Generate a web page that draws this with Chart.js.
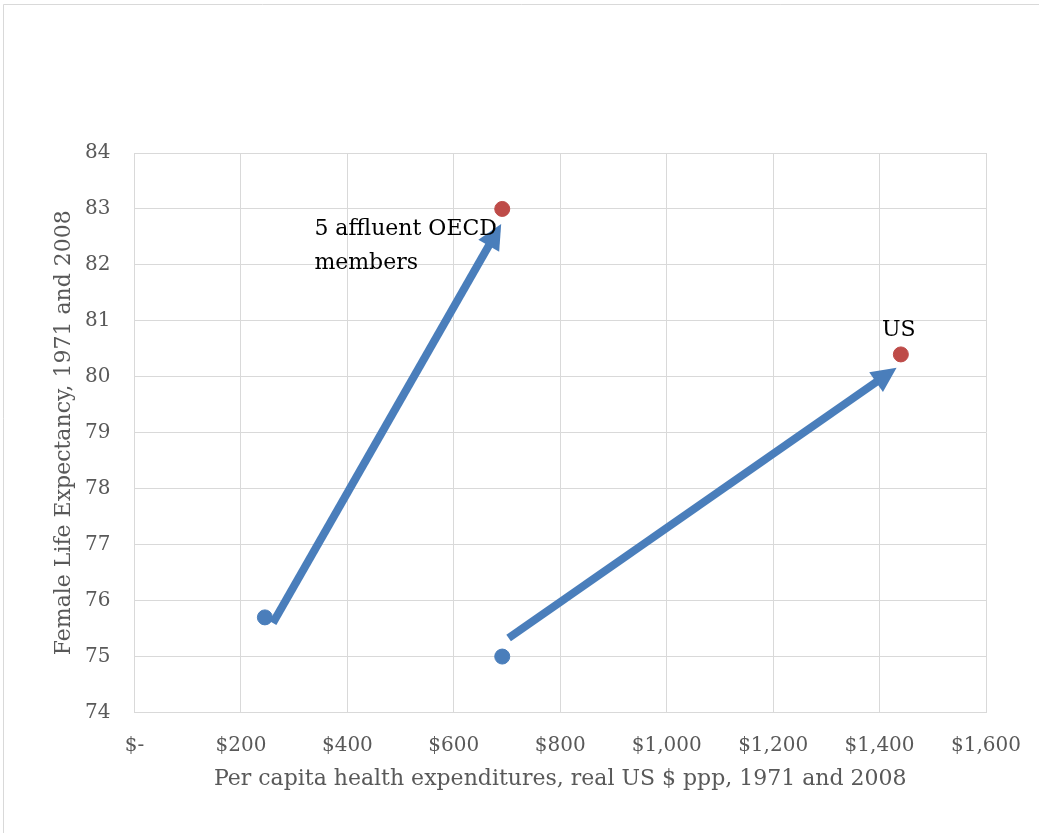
<!DOCTYPE html>
<html>
<head>
<meta charset="utf-8">
<script src="https://cdn.jsdelivr.net/npm/chart.js@4"></script>
<style>
  html, body { margin: 0; padding: 0; background: #fff; }
  #wrap { position: relative; width: 1039px; height: 833px; }
</style>
</head>
<body>
<div id="wrap"><canvas id="c" width="1039" height="833"></canvas></div>
<script>
// ---- data ----
const xTickValues = [0, 200, 400, 600, 800, 1000, 1200, 1400, 1600];
const xTickLabels = ['$-', '$200', '$400', '$600', '$800', '$1,000', '$1,200', '$1,400', '$1,600'];
const yTickValues = [74, 75, 76, 77, 78, 79, 80, 81, 82, 83, 84];

const expend1971 = [245, 691];
const life1971 = [75.7, 75.0];
const expend2008 = [691, 1440];
const life2008 = [83.0, 80.4];

const arrowOecdX = [260, 689];
const arrowOecdY = [75.6, 82.73];
const arrowUsX = [703, 1432];
const arrowUsY = [75.33, 80.16];

const labelOecdText = ['5 affluent OECD', 'members'];
const labelOecdPos = [338, 82.64];
const labelUsText = ['US'];
const labelUsPos = [1436, 80.84];

const xTitle = 'Per capita health expenditures, real US $ ppp, 1971 and 2008';
const yTitle = 'Female Life Expectancy, 1971 and 2008';

const FONT = "'DejaVu Serif', 'Liberation Serif', serif";
const BLUE = '#4a7ebb';
const RED = '#be4b48';

const toPts = (xs, ys) => xs.map((x, i) => ({ x, y: ys[i] }));

const arrowPlugin = {
  id: 'arrows',
  afterDatasetsDraw(chart) {
    const ctx = chart.ctx;
    const xs = chart.scales.x, ys = chart.scales.y;
    const arrows = [[arrowOecdX, arrowOecdY], [arrowUsX, arrowUsY]];
    ctx.save();
    arrows.forEach(([ax, ay]) => {
      const x0 = xs.getPixelForValue(ax[0]), y0 = ys.getPixelForValue(ay[0]);
      const x1 = xs.getPixelForValue(ax[1]), y1 = ys.getPixelForValue(ay[1]);
      const ang = Math.atan2(y1 - y0, x1 - x0);
      const headLen = 25, headHalf = 12;
      const bx = x1 - Math.cos(ang) * headLen, by = y1 - Math.sin(ang) * headLen;
      ctx.strokeStyle = BLUE;
      ctx.lineWidth = 8;
      ctx.lineCap = 'butt';
      ctx.beginPath();
      ctx.moveTo(x0, y0);
      ctx.lineTo(bx + Math.cos(ang) * 2, by + Math.sin(ang) * 2);
      ctx.stroke();
      ctx.fillStyle = BLUE;
      ctx.beginPath();
      ctx.moveTo(x1, y1);
      ctx.lineTo(bx + Math.cos(ang + Math.PI / 2) * headHalf, by + Math.sin(ang + Math.PI / 2) * headHalf);
      ctx.lineTo(bx - Math.cos(ang + Math.PI / 2) * headHalf, by - Math.sin(ang + Math.PI / 2) * headHalf);
      ctx.closePath();
      ctx.fill();
    });
    // labels
    ctx.fillStyle = '#000';
    ctx.font = '22px ' + FONT;
    ctx.textBaseline = 'middle';
    ctx.textAlign = 'left';
    let lx = xs.getPixelForValue(labelOecdPos[0]), ly = ys.getPixelForValue(labelOecdPos[1]);
    labelOecdText.forEach((t, i) => ctx.fillText(t, lx, ly + i * 34));
    ctx.textAlign = 'center';
    lx = xs.getPixelForValue(labelUsPos[0]); ly = ys.getPixelForValue(labelUsPos[1]);
    labelUsText.forEach((t, i) => ctx.fillText(t, lx, ly + i * 34));
    ctx.restore();
  },
  beforeDraw(chart) {
    const ctx = chart.ctx;
    ctx.save();
    ctx.fillStyle = '#fff';
    ctx.fillRect(0, 0, chart.width, chart.height);
    ctx.strokeStyle = '#d9d9d9';
    ctx.lineWidth = 1;
    ctx.beginPath();
    ctx.moveTo(3.5, chart.height);
    ctx.lineTo(3.5, 4.5);
    ctx.lineTo(chart.width, 4.5);
    ctx.stroke();
    ctx.restore();
  }
};

new Chart(document.getElementById('c'), {
  type: 'scatter',
  data: {
    datasets: [
      { label: '1971', data: toPts(expend1971, life1971), backgroundColor: BLUE, borderColor: BLUE, pointRadius: 7.5, pointHoverRadius: 7.5, order: 2 },
      { label: '2008', data: toPts(expend2008, life2008), backgroundColor: RED, borderColor: RED, pointRadius: 7.5, pointHoverRadius: 7.5, order: 1 }
    ]
  },
  options: {
    responsive: false,
    animation: false,
    events: [],
    layout: { padding: { left: 0, right: 53, top: 153, bottom: 0 } },
    plugins: { legend: { display: false }, tooltip: { enabled: false } },
    scales: {
      x: {
        type: 'linear', min: 0, max: 1600,
        afterBuildTicks: (s) => { s.ticks = xTickValues.map(v => ({ value: v })); },
        afterFit: (s) => { s.height = 833 - 712.5; s.paddingLeft = 0; s.paddingRight = 0; },
        ticks: { callback: (v) => xTickLabels[xTickValues.indexOf(v)], color: '#595959', font: { family: FONT, size: 20 }, padding: 21, maxRotation: 0, autoSkip: false },
        grid: { color: '#d9d9d9', drawTicks: false },
        border: { color: '#d9d9d9' },
        title: { display: true, text: xTitle, color: '#595959', font: { family: FONT, size: 22 }, padding: { top: 0, bottom: 41 } }
      },
      y: {
        type: 'linear', min: 74, max: 84,
        afterBuildTicks: (s) => { s.ticks = yTickValues.map(v => ({ value: v })); },
        afterFit: (s) => { s.width = 134.5; s.paddingTop = 0; s.paddingBottom = 0; },
        ticks: { color: '#595959', font: { family: FONT, size: 20 }, padding: 24, autoSkip: false },
        grid: { color: '#d9d9d9', drawTicks: false },
        border: { color: '#d9d9d9' },
        title: { display: true, text: yTitle, color: '#595959', font: { family: FONT, size: 22 }, padding: { top: 51, bottom: 0 } }
      }
    }
  },
  plugins: [arrowPlugin]
});
</script>
</body>
</html>
